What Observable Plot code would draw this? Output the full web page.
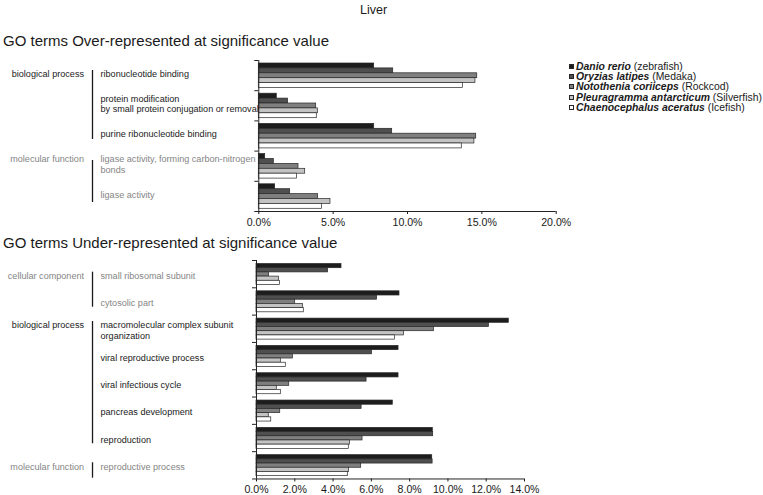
<!DOCTYPE html>
<html><head><meta charset="utf-8">
<script src="https://cdn.jsdelivr.net/npm/d3@7"></script>
<script src="https://cdn.jsdelivr.net/npm/@observablehq/plot@0.6"></script>
<style>
body{margin:0;background:#fff;font-family:"Liberation Sans",Arial,sans-serif;color:#1a1a1a;}
#root{position:relative;width:763px;height:495px;overflow:hidden;background:#fff;}
.abs{position:absolute;white-space:nowrap;line-height:1;}
.lg{position:absolute;left:569px;font-size:10.4px;line-height:1;white-space:nowrap;}
.lg i{font-weight:bold;}
.sw{display:inline-block;width:5px;height:5px;border:0.8px solid #262626;margin-right:2px;vertical-align:1px;box-sizing:border-box;}
</style></head><body><div id="root"></div>
<script>
// ---------- data ----------
const species = ["Danio rerio", "Oryzias latipes", "Notothenia coriiceps", "Pleuragramma antarcticum", "Chaenocephalus aceratus"];
const commonNames = ["zebrafish", "Medaka", "Rockcod", "Silverfish", "Icefish"];
const speciesColors = ["#1d1d1d", "#4f4f4f", "#7f7f7f", "#c3c3c3", "#ffffff"];

const overTerms = ["ribonucleotide binding", "protein modification\nby small protein conjugation or removal", "purine ribonucleotide binding", "ligase activity, forming carbon-nitrogen\nbonds", "ligase activity"];
const overGroups = ["biological process", "biological process", "biological process", "molecular function", "molecular function"];
const danioOver = [7.76, 1.21, 7.76, 0.43, 1.10];
const oryziasOver = [9.04, 1.97, 8.97, 1.01, 2.11];
const nototheniaOver = [14.69, 3.86, 14.62, 2.67, 3.99];
const pleuragrammaOver = [14.57, 3.97, 14.50, 3.12, 4.82];
const chaenocephalusOver = [13.72, 3.90, 13.65, 2.56, 4.24];
const overTicks = [0, 5, 10, 15, 20];

const underTerms = ["small ribosomal subunit", "cytosolic part", "macromolecular complex subunit\norganization", "viral reproductive process", "viral infectious cycle", "pancreas development", "reproduction", "reproductive process"];
const underGroups = ["cellular component", "cellular component", "biological process", "biological process", "biological process", "biological process", "biological process", "molecular function"];
const danioUnder = [4.44, 7.47, 13.18, 7.42, 7.42, 7.12, 9.21, 9.18];
const oryziasUnder = [3.74, 6.30, 12.14, 6.03, 5.75, 5.49, 9.23, 9.20];
const nototheniaUnder = [0.66, 2.02, 9.27, 1.90, 1.71, 1.24, 5.54, 5.47];
const pleuragrammaUnder = [1.17, 2.42, 7.70, 1.27, 1.06, 0.64, 4.88, 4.84];
const chaenocephalusUnder = [1.22, 2.47, 7.23, 1.53, 1.27, 0.77, 4.82, 4.77];
const underTicks = [0, 2, 4, 6, 8, 10, 12, 14];

const groupColors = {"biological process": "#1a1a1a", "molecular function": "#858585", "cellular component": "#858585"};

// ---------- chart builder ----------
function groupedChart(o) {
  const n = o.terms.length;
  const height = o.marginTop + o.bw * n + o.marginBottom;
  const rows = o.terms.map((t, i) => ({term: t, group: o.groups[i]}));
  const lastTerm = o.terms[n - 1];
  const lh = 1.12;
  const marks = [];
  o.series.forEach((vals, k) => {
    marks.push(Plot.barX(o.terms.map((t, i) => ({term: t, value: vals[i]})), {
      y: "term", x: "value", fill: speciesColors[k], stroke: "#262626", strokeWidth: 0.7,
      insetTop: o.padTop + k * o.barH, insetBottom: o.bw - o.padTop - (k + 1) * o.barH
    }));
  });
  marks.push(Plot.ruleX([0], {stroke: "#222", strokeWidth: 1}));
  marks.push(Plot.ruleY(o.terms, {y: d => d, dy: -o.bw / 2, x1: () => 0, x2: () => 0, insetLeft: -4, stroke: "#222"}));
  marks.push(Plot.ruleY([lastTerm], {y: d => d, dy: o.bw / 2, x1: () => 0, x2: () => o.xmax, insetLeft: -4, stroke: "#222"}));
  marks.push(Plot.text(rows, {
    y: "term", text: "term", frameAnchor: "left", dx: o.termX - o.marginLeft, dy: o.labelDy,
    textAnchor: "start", fill: d => groupColors[d.group], fontSize: o.fontSize, lineHeight: lh
  }));
  const names = [...new Set(o.groups)];
  names.forEach((g, gi) => {
    const idx = o.groups.map((x, i) => x === g ? i : -1).filter(i => i >= 0);
    const first = o.terms[idx[0]], last = o.terms[idx[idx.length - 1]];
    const lines = first.split("\n").length;
    marks.push(Plot.text([g], {
      y: () => first, text: d => d, frameAnchor: "left", dx: o.groupX - o.marginLeft,
      dy: o.labelDy - (lines - 1) * o.fontSize * lh / 2, textAnchor: "end",
      fill: groupColors[g], fontSize: o.fontSize
    }));
    marks.push(Plot.ruleX([g], {
      x: () => 0, y1: () => first, y2: () => last, dx: o.barX - o.marginLeft,
      insetTop: o.groupBar[gi][0], insetBottom: o.groupBar[gi][1], stroke: "#1a1a1a", strokeWidth: 1.3
    }));
  });
  return Plot.plot({
    width: 763, height,
    marginLeft: o.marginLeft, marginRight: o.marginRight, marginTop: o.marginTop, marginBottom: o.marginBottom,
    style: {fontFamily: "'Liberation Sans', Arial, sans-serif", fontSize: o.tickFont + "px", color: "#1a1a1a", background: "transparent", overflow: "visible"},
    x: {domain: [0, o.xmax], ticks: o.ticks, tickFormat: d => d.toFixed(1) + "%", tickSize: 3, tickPadding: o.tickPad, label: null},
    y: {domain: o.terms, padding: 0, round: false, axis: null},
    color: {type: "identity"},
    marks
  });
}

const root = document.getElementById("root");
function addText(txt, left, top, size, extra) {
  const d = document.createElement("div");
  d.className = "abs"; d.textContent = txt;
  d.style.left = left + "px"; d.style.top = top + "px"; d.style.fontSize = size + "px";
  if (extra) Object.assign(d.style, extra);
  root.appendChild(d);
  return d;
}
addText("Liver", 360, 4, 12.5);
addText("GO terms Over-represented at significance value", 3, 33, 15);
addText("GO terms Under-represented at significance value", 3, 235, 15);

const top1 = groupedChart({
  terms: overTerms, groups: overGroups,
  series: [danioOver, oryziasOver, nototheniaOver, pleuragrammaOver, chaenocephalusOver],
  xmax: 20, ticks: overTicks,
  marginLeft: 258.3, marginRight: 207.3, marginTop: 12, marginBottom: 24,
  bw: 30.2, padTop: 3, barH: 4.9, labelDy: -2, fontSize: 9.1, tickFont: 10.6, tickPad: 4,
  termX: 100, groupX: 83.5, barX: 92,
  groupBar: [[10, 11.6], [9.4, 9]]
});
top1.style.position = "absolute"; top1.style.left = "0px"; top1.style.top = "48px";
root.appendChild(top1);

const bottom1 = groupedChart({
  terms: underTerms, groups: underGroups,
  series: [danioUnder, oryziasUnder, nototheniaUnder, pleuragrammaUnder, chaenocephalusUnder],
  xmax: 14, ticks: underTicks,
  marginLeft: 256, marginRight: 239, marginTop: 10, marginBottom: 16,
  bw: 27.31, padTop: 3.5, barH: 4.2, labelDy: 1.5, fontSize: 9.1, tickFont: 10.6, tickPad: 3,
  termX: 100, groupX: 83.5, barX: 92,
  groupBar: [[11.7, 7.9], [6.4, 7.9], [11.1, 0.8]]
});
bottom1.style.position = "absolute"; bottom1.style.left = "0px"; bottom1.style.top = "250px";
root.appendChild(bottom1);

// legend
species.forEach((s, i) => {
  const d = document.createElement("div");
  d.className = "lg";
  d.style.top = (62.2 + i * 10.1) + "px";
  const sw = document.createElement("span");
  sw.className = "sw"; sw.style.background = speciesColors[i];
  const it = document.createElement("i"); it.textContent = s;
  d.appendChild(sw); d.appendChild(it);
  d.appendChild(document.createTextNode(" (" + commonNames[i] + ")"));
  root.appendChild(d);
});
</script>
</body></html>
